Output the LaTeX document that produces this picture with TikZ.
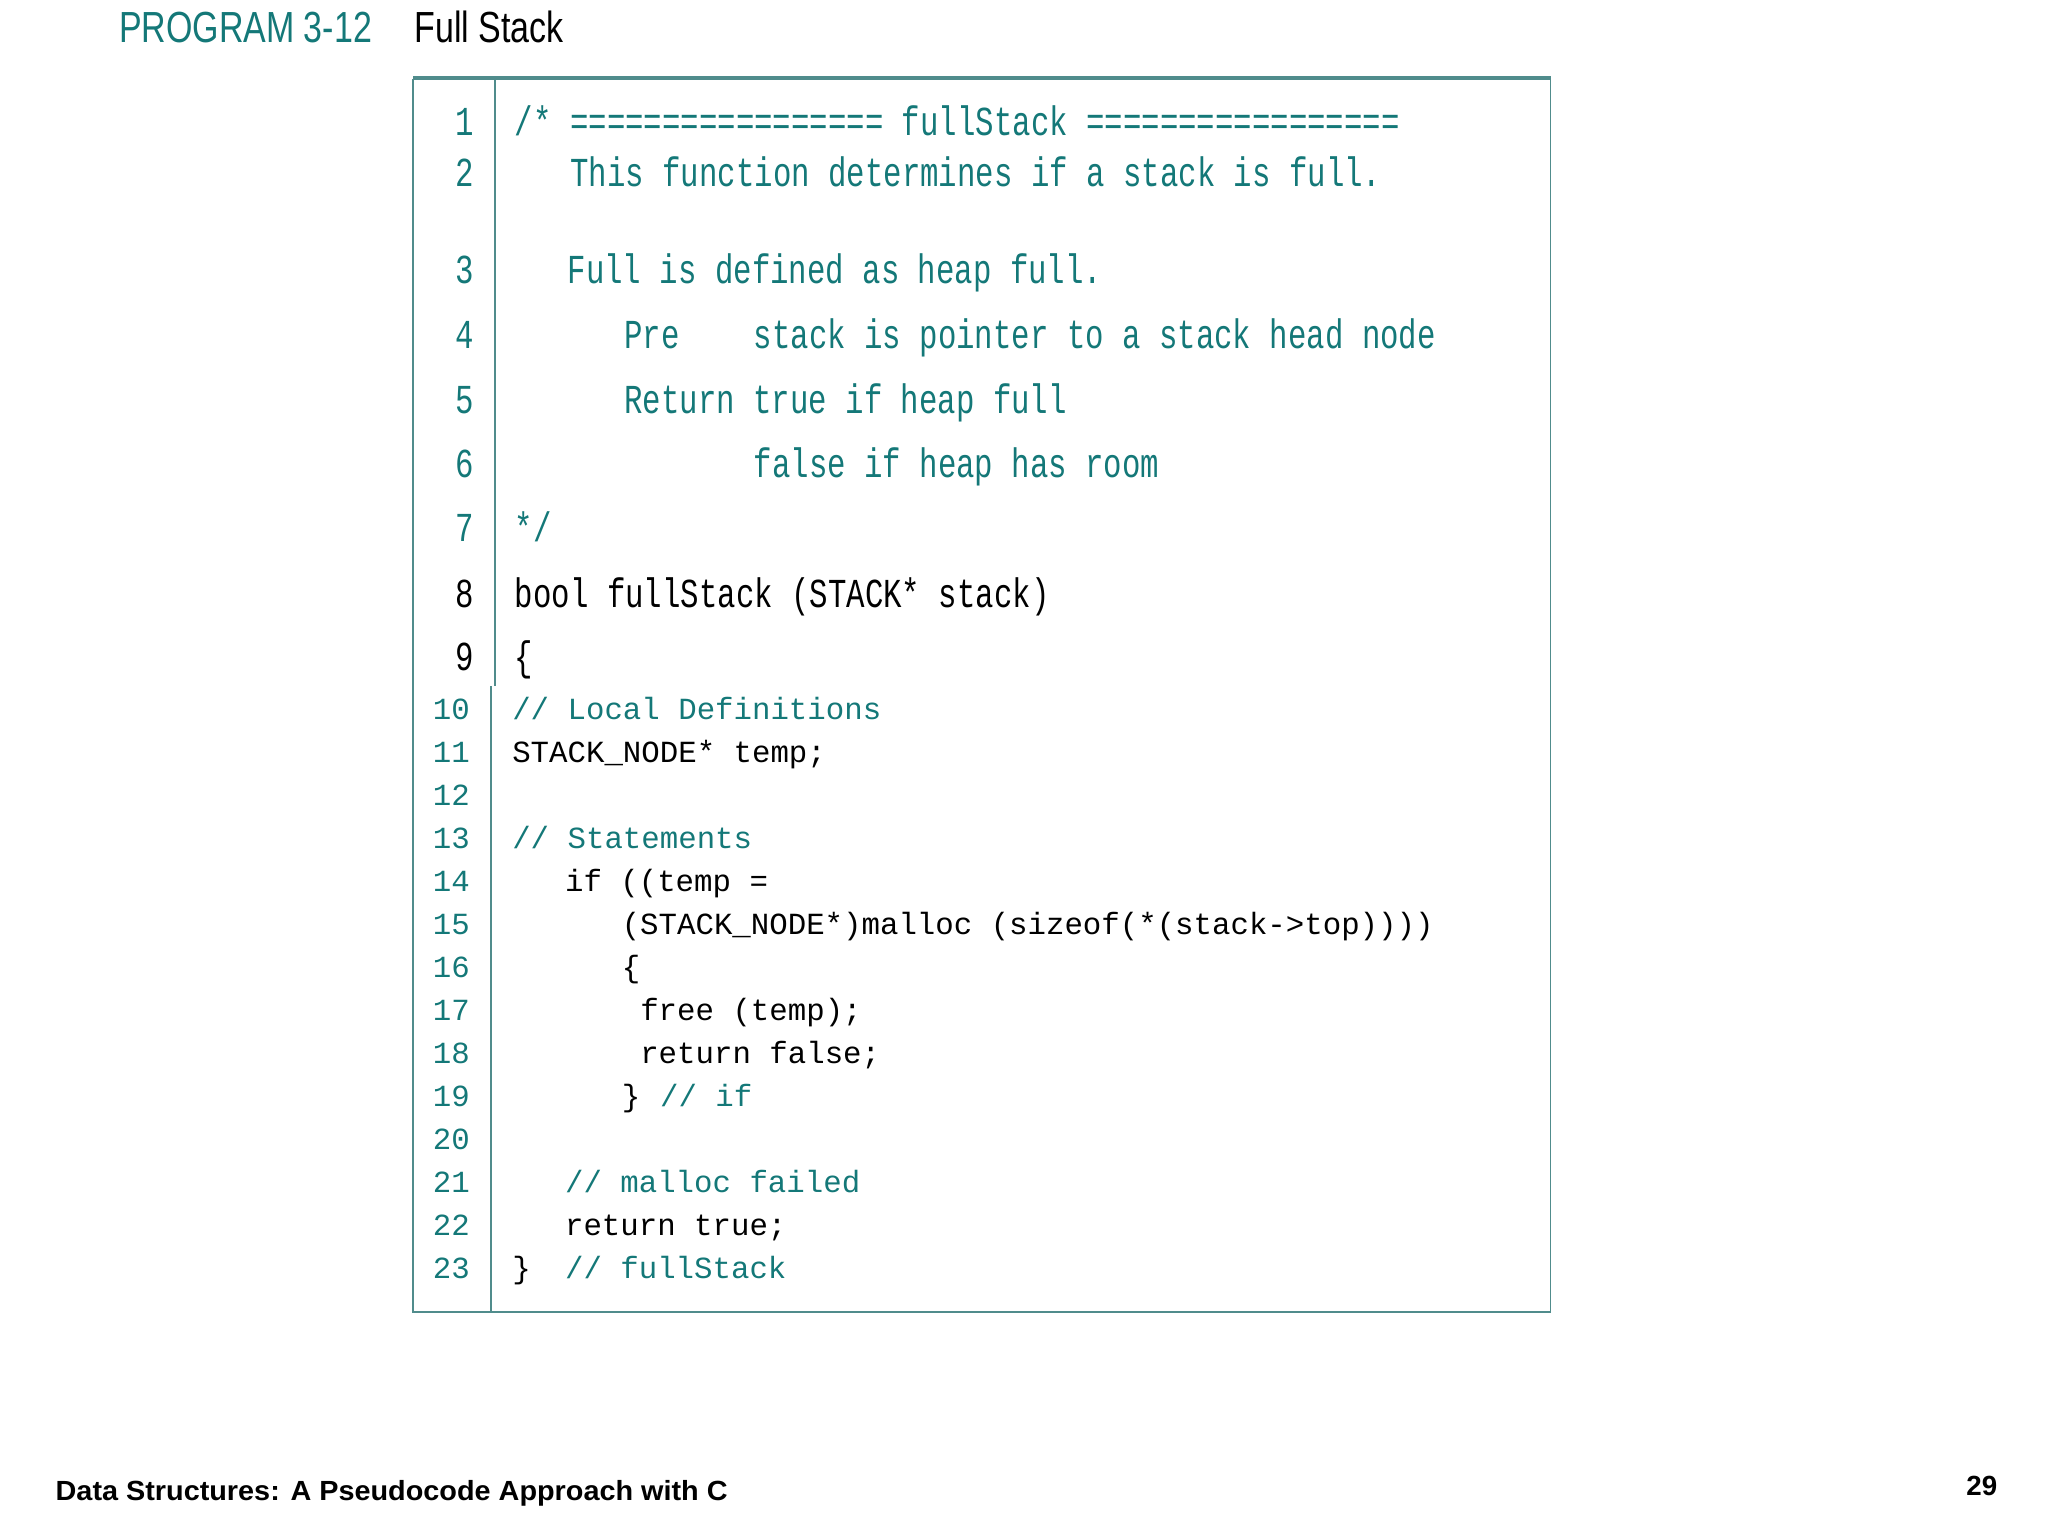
\documentclass[tikz,border=0pt]{standalone}
\usepackage{fontspec}
\usepackage{graphicx}
\setmainfont{Liberation Serif}
\setsansfont{Liberation Sans}
\setmonofont{Liberation Mono}
\definecolor{tealc}{RGB}{20,120,120}
\definecolor{boxc}{RGB}{80,140,140}
\tikzset{
 big/.style={anchor=base west,inner sep=0pt,font=\fontsize{24}{24}\selectfont\ttfamily},
 sml/.style={anchor=base west,inner sep=0pt,font=\fontsize{23.3}{24}\selectfont\ttfamily},
 bnum/.style={anchor=base,inner sep=0pt,font=\fontsize{24}{24}\selectfont\ttfamily},
 snum/.style={anchor=base,inner sep=0pt,font=\fontsize{23.3}{24}\selectfont\ttfamily,text=tealc},
}
\newcommand{\tall}[1]{\scalebox{0.97}[1.3]{#1}}
\begin{document}
\begin{tikzpicture}[x=1pt,y=-1pt]
\useasboundingbox (0,0) rectangle (1552,1164);
% title
\node[anchor=base west,inner sep=0pt,font=\fontsize{33}{33}\selectfont\sffamily,text=tealc] (t1) at (90,32) {\scalebox{0.78}[1]{PROGRAM 3-12}};
\node[anchor=base west,inner sep=0pt,font=\fontsize{33}{33}\selectfont\sffamily] (t2) at (314,32) {\scalebox{0.78}[1]{Full Stack}};
% box
\draw[boxc,line width=1.3pt] (313,60) -- (313,994) -- (1175,994) -- (1175,60);
\draw[boxc,line width=3pt] (313,59) -- (1175,59);
\draw[boxc,line width=1.3pt] (375,60) -- (375,520);
\draw[boxc,line width=1.3pt] (372,520) -- (372,994);
% top lines
\foreach \n/\y/\c in {1/103/tealc,2/141/tealc,3/215/tealc,4/264/tealc,5/313/tealc,6/362/tealc,7/410/tealc,8/460/black,9/508/black}
  \node[bnum,text=\c] (n\n) at (352,\y) {\tall{\n}};
\node[big,text=tealc] (l1) at (390,103) {\tall{/* ================= fullStack =================}};
\node[big,text=tealc] (l2) at (432,141) {\tall{This function determines if a stack is full.}};
\node[big,text=tealc] (l3) at (430,215) {\tall{Full is defined as heap full.}};
\node[big,text=tealc] (l4a) at (473,264) {\tall{Pre}};
\node[big,text=tealc] (l4b) at (571,264) {\tall{stack is pointer to a stack head node}};
\node[big,text=tealc] (l5) at (473,313) {\tall{Return true if heap full}};
\node[big,text=tealc] (l6) at (571,362) {\tall{false if heap has room}};
\node[big,text=tealc] (l7) at (390,410) {\tall{*/}};
\node[big] (l8) at (390,460) {\tall{bool fullStack (STACK* stack)}};
\node[big] (l9) at (390,508) {\tall{\{}};
% bottom lines
\foreach \n [evaluate=\n as \y using {545+(\n-10)*32.6}] in {10,...,23}
  \node[snum] (n\n) at (342,\y) {\n};
\node[sml,text=tealc] (m10) at (388,545) {// Local Definitions};
\node[sml] (m11) at (388,577.6) {STACK\_NODE* temp;};
\node[sml,text=tealc] (m13) at (388,642.8) {// Statements};
\node[sml] (m14) at (428,675.4) {if ((temp =};
\node[sml] (m15) at (471,708) {(STACK\_NODE*)malloc (sizeof(*(stack->top))))};
\node[sml] (m16) at (471,740.6) {\{};
\node[sml] (m17) at (485,773.2) {free (temp);};
\node[sml] (m18) at (485,805.8) {return false;};
\node[sml] (m19a) at (471,838.4) {\}};
\node[sml,text=tealc] (m19b) at (500,838.4) {// if};
\node[sml,text=tealc] (m21) at (428,903.6) {// malloc failed};
\node[sml] (m22) at (428,936.2) {return true;};
\node[sml] (m23a) at (388,968.8) {\}};
\node[sml,text=tealc] (m23b) at (428,968.8) {// fullStack};
% footer
\node[anchor=base west,inner sep=0pt,font=\fontsize{21}{21}\selectfont\sffamily\bfseries] (f1) at (42,1137) {\scalebox{1.04}[1]{Data Structures: A Pseudocode Approach with C}};
\node[anchor=base west,inner sep=0pt,font=\fontsize{21}{21}\selectfont\sffamily\bfseries] (f2) at (1490,1133) {29};
\end{tikzpicture}
\end{document}
